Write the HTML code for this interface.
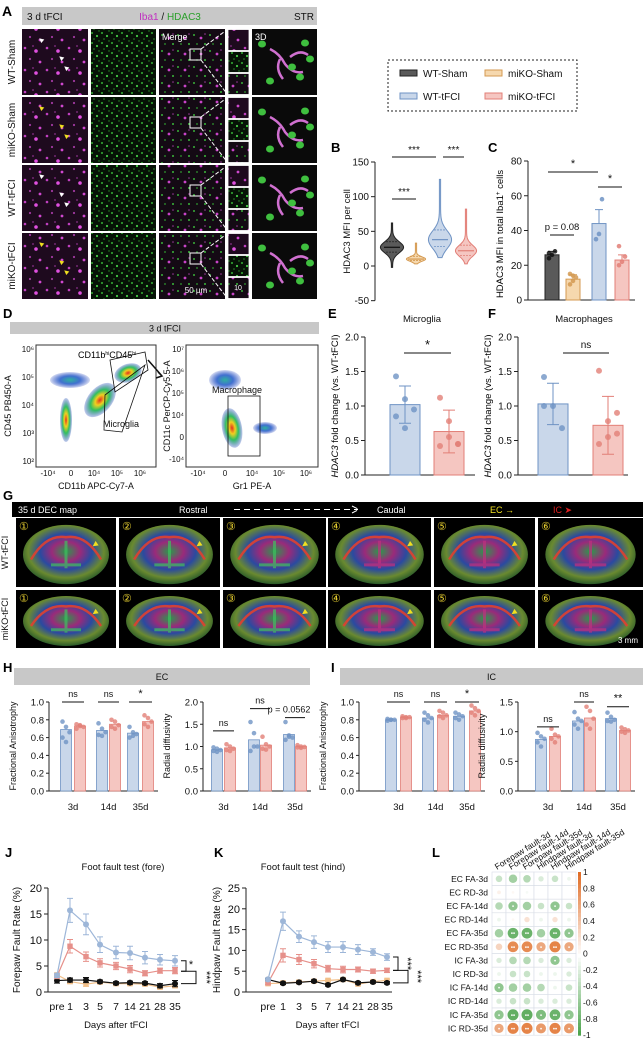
<!DOCTYPE html>
<html><head><meta charset="utf-8">
<style>
html,body{margin:0;padding:0;background:#fff;}
svg{display:block;font-family:"Liberation Sans",Arial,sans-serif;}
</style></head>
<body>
<svg id="fig" width="643" height="1038" viewBox="0 0 643 1038" xmlns="http://www.w3.org/2000/svg">
<defs>
<pattern id="pMag" width="22" height="22" patternUnits="userSpaceOnUse">
<rect width="22" height="22" fill="#1e0a1e"/>
<circle cx="3" cy="4" r="1.3" fill="#c040c0"/><circle cx="14" cy="7" r="1.8" fill="#e050e0"/><circle cx="8" cy="15" r="1.1" fill="#a038a0"/><circle cx="18" cy="18" r="1.4" fill="#d048d0"/><circle cx="11" cy="2" r="0.9" fill="#8a308a"/>
</pattern>
<pattern id="pGrn" width="10" height="10" patternUnits="userSpaceOnUse">
<rect width="10" height="10" fill="#061206"/>
<circle cx="2" cy="3" r="1" fill="#35b035"/><circle cx="7" cy="6" r="1.1" fill="#44cc44"/><circle cx="4" cy="9" r="0.8" fill="#2a8a2a"/><circle cx="9" cy="1" r="0.7" fill="#279027"/>
</pattern>
<pattern id="pMrg" width="16" height="16" patternUnits="userSpaceOnUse">
<rect width="16" height="16" fill="#140a14"/>
<circle cx="2" cy="3" r="1" fill="#38b038"/><circle cx="9" cy="6" r="1.4" fill="#c844c8"/><circle cx="5" cy="12" r="0.9" fill="#2f9a2f"/><circle cx="13" cy="12" r="1" fill="#3ab83a"/><circle cx="13" cy="2" r="0.8" fill="#9a3a9a"/>
</pattern>
<radialGradient id="gBrain" cx="50%" cy="45%" r="55%">
<stop offset="0" stop-color="#2a9a4a"/><stop offset="0.3" stop-color="#9a2a7a"/><stop offset="0.55" stop-color="#2a4aa0"/><stop offset="0.8" stop-color="#6a8a30"/><stop offset="1" stop-color="#2a5a2a"/>
</radialGradient>
<radialGradient id="gFlow" cx="50%" cy="50%" r="50%">
<stop offset="0" stop-color="#e03020"/><stop offset="0.3" stop-color="#f0d020"/><stop offset="0.6" stop-color="#30c060"/><stop offset="1" stop-color="#3050c0" stop-opacity="0.3"/>
</radialGradient>
<radialGradient id="gFlow2" cx="50%" cy="50%" r="50%">
<stop offset="0" stop-color="#30b0a0"/><stop offset="0.5" stop-color="#4070d0"/><stop offset="1" stop-color="#3050c0" stop-opacity="0.2"/>
</radialGradient>
</defs>
</svg>
<script>
// ---------- DATA ----------
const vGroups=['WT-Sham','miKO-Sham','WT-tFCI','miKO-tFCI'];
const vMin=[-2,3,12,3], vQ1=[20,8,28,15], vMed=[27,10,38,22], vQ3=[35,14,52,30], vMax=[62,33,125,82];
const cMeans=[26,12,44,23], cSem=[2,2.5,8,3];
const cPts=[[24,26,28,27],[9,11,13,15,14],[35,38,58],[20,22,25,31]];
const eMeans=[1.02,0.63], eSd=[0.27,0.31];
const ePts=[[1.43,1.1,0.95,0.85,0.68],[1.12,0.78,0.45,0.42,0.55,0.45]];
const fMeans=[1.03,0.72], fSd=[0.3,0.42];
const fPts=[[1.42,1.0,0.68,1.0],[1.51,0.78,0.6,0.45,0.55,0.9]];
const dtiDays=['3d','14d','35d'];
const hFaBlue=[.69,.68,.65], hFaRed=[.73,.75,.78];
const hRdBlue=[.93,1.15,1.27], hRdRed=[.97,1.03,1.0];
const iFaBlue=[.80,.82,.84], iFaRed=[.83,.85,.90];
const iRdBlue=[.87,1.18,1.22], iRdRed=[.92,1.23,1.02];
const hFaBluePts=[[.78,.72,.66,.6,.55],[.76,.7,.66,.63,.62],[.72,.66,.64,.6,.62]];
const hFaRedPts=[[.75,.74,.72,.7,.73],[.8,.78,.74,.72,.7],[.85,.82,.78,.75,.72]];
const hRdBluePts=[[.98,.95,.92,.9,.88],[1.55,1.3,1.0,.9,1.0],[1.55,1.25,1.2,1.15,1.22]];
const hRdRedPts=[[1.05,1.0,.95,.92,.9],[1.22,1.05,1.0,.95,.93],[1.03,1.0,.99,.98,.97]];
const iFaBluePts=[[.81,.8,.8,.79,.8],[.88,.85,.82,.8,.77],[.88,.86,.84,.82,.8]];
const iFaRedPts=[[.84,.83,.83,.82,.82],[.9,.88,.85,.84,.82],[.96,.93,.9,.88,.85]];
const iRdBluePts=[[.98,.92,.88,.82,.75],[1.33,1.22,1.18,1.12,1.05],[1.32,1.25,1.2,1.18,1.17]];
const iRdRedPts=[[1.05,.95,.92,.88,.82],[1.42,1.35,1.22,1.12,1.05],[1.07,1.04,1.02,1.0,.98]];
const hFaSig=['ns','ns','*'], hRdSig=['ns','ns','p = 0.0562'], iFaSig=['ns','ns','*'], iRdSig=['ns','ns','**'];
const hRdSigLvl=[1.35,1.85,1.65], iRdSigLvl=[1.08,1.5,1.42];
const ffDays=['pre','1','3','5','7','14','21','28','35'];
const foreBlue=[3.2,15.7,13.0,9.1,7.6,7.5,6.6,6.2,6.0], foreBlueErr=[0.4,2.3,2.0,1.5,1.2,1.3,1.2,1.0,1.0];
const foreRed=[3.0,8.8,6.8,5.6,5.0,4.4,3.6,4.1,4.1], foreRedErr=[0.3,1.3,0.9,0.8,0.7,0.7,0.5,0.5,0.6];
const foreOrange=[3.3,2.0,1.5,1.9,1.6,1.6,1.5,0.9,1.2], foreOrangeErr=[0.3,0.4,0.4,0.3,0.3,0.3,0.3,0.3,0.4];
const foreBlack=[2.2,2.3,2.3,2.0,1.7,1.8,1.7,1.2,1.6], foreBlackErr=[0.5,0.4,0.5,0.3,0.3,0.3,0.3,0.4,0.6];
const hindBlue=[3.0,17.0,13.3,12.0,10.8,10.8,10.2,9.6,8.4], hindBlueErr=[0.4,2.2,1.4,1.5,1.3,1.3,1.2,0.8,0.8];
const hindRed=[2.2,8.8,7.8,6.8,5.6,5.4,5.4,5.0,5.2], hindRedErr=[0.3,1.6,1.2,1.0,0.8,0.8,0.6,0.5,0.5];
const hindOrange=[2.0,2.2,2.4,2.6,2.8,3.0,1.9,2.5,2.8], hindOrangeErr=[0.3,0.3,0.3,0.3,0.3,0.3,0.3,0.3,0.3];
const hindBlack=[3.0,2.1,2.3,2.6,1.7,3.0,2.2,2.4,2.2], hindBlackErr=[0.3,0.3,0.3,0.3,0.3,0.3,0.3,0.3,0.3];
const corrRows=['EC FA-3d','EC RD-3d','EC FA-14d','EC RD-14d','EC FA-35d','EC RD-35d','IC FA-3d','IC RD-3d','IC FA-14d','IC RD-14d','IC FA-35d','IC RD-35d'];
const corrCols=['Forepaw fault-3d','Forepaw fault-14d','Forepaw fault-35d','Hindpaw fault-3d','Hindpaw fault-14d','Hindpaw fault-35d'];
const corrVals=[
[-0.3,-0.5,-0.4,-0.2,-0.3,-0.1],
[0.1,0.05,-0.05,0,0,0],
[-0.4,-0.6,-0.5,-0.3,-0.6,-0.3],
[-0.1,0.05,0.2,-0.1,0.2,-0.1],
[-0.5,-0.8,-0.8,-0.5,-0.8,-0.6],
[0.3,0.8,0.8,0.6,0.85,0.6],
[-0.2,-0.4,-0.4,-0.2,-0.6,-0.2],
[-0.1,-0.3,-0.3,-0.1,-0.1,-0.2],
[-0.6,-0.5,-0.5,-0.4,-0.1,-0.3],
[-0.2,-0.3,-0.3,-0.2,-0.2,-0.2],
[-0.6,-0.85,-0.85,-0.7,-0.8,-0.6],
[0.6,0.85,0.85,0.7,0.85,0.7]];
const corrTicks=[1,0.8,0.6,0.4,0.2,0,-0.2,-0.4,-0.6,-0.8,-1];

// ---------- HELPERS ----------
const NS='http://www.w3.org/2000/svg';
const svg=document.getElementById('fig');
function el(tag,parent){const e=document.createElementNS(NS,tag);(parent||svg).appendChild(e);return e;}
function at(e,o){for(const k in o)e.setAttribute(k,o[k]);return e;}
function T(p,x,y,s,size,anchor,fill,extra){const t=at(el('text',p),Object.assign({x:x,y:y,'font-size':size||9,'text-anchor':anchor||'start',fill:fill||'#111'},extra||{}));t.textContent=s;return t;}
function G(p){return el('g',p);}
const C={bF:'#c9d7ea',bS:'#6f93c4',rF:'#f5c6c1',rS:'#e27f77',oF:'#f6d8ae',oS:'#d49a52',kF:'#5a5a5a',kS:'#222'};

// ---------- PANEL A ----------
const gA=G();  
let t=T(gA,2,16,'A',14,'start','#000',{'font-weight':'bold'});  
let r=at(el('rect',gA),{x:22,y:7,width:295,height:18,fill:'#c8c8c8'});  
t=T(gA,27,20,'3 d tFCI',10);  
t=at(el('text',gA),{x:170,y:20,'font-size':10,'text-anchor':'middle'}); t.innerHTML='<tspan fill="#c030c0">Iba1</tspan><tspan fill="#111"> / </tspan><tspan fill="#2aa02a">HDAC3</tspan>';  
t=T(gA,314,20,'STR',10,'end');  
const aRows=['WT-Sham','miKO-Sham','WT-tFCI','miKO-tFCI'];
const aRowY=[29,97,165,233];
aRows.forEach((lab,i)=>{
  const y=aRowY[i],h=66;
  const lt=T(gA,15,y+h/2,lab,10,'middle','#111',{transform:`rotate(-90 15 ${y+h/2})`});  
  const i1=at(el('rect',gA),{x:22,y:y,width:66,height:h,fill:'url(#pMag)'});  
  const i2=at(el('rect',gA),{x:91,y:y,width:65,height:h,fill:'url(#pGrn)'});  
  const i3=at(el('rect',gA),{x:159,y:y,width:66,height:h,fill:'url(#pMrg)'});  
  const bx=at(el('rect',gA),{x:190,y:y+20,width:11,height:11,fill:'none',stroke:'#fff','stroke-width':1});  
  const dl=at(el('path',gA),{d:`M201 ${y+20} L228 ${y} M201 ${y+31} L228 ${y+h}`,stroke:'#fff','stroke-width':1,'stroke-dasharray':'4 2',fill:'none'});  
  ['url(#pMag)','url(#pGrn)','url(#pMrg)'].forEach((f,k)=>{const s=at(el('rect',gA),{x:228,y:y+k*22+0.5,width:21,height:21,fill:f,stroke:'#fff','stroke-width':0.8});  });
  const d3=at(el('rect',gA),{x:252,y:y,width:65,height:h,fill:'#0a0a0a'});  
  const cell=at(el('path',gA),{d:`M270 ${y+20} q10 5 15 15 q8 10 18 8 M280 ${y+30} q-5 10 3 20 M290 ${y+28} q10 -8 18 -2`,stroke:'#d070d0','stroke-width':2.5,fill:'none'});  
  [[262,15],[305,14],[300,48],[270,52],[292,38],[310,30]].forEach(p=>{const n=at(el('ellipse',gA),{cx:p[0],cy:y+p[1],rx:4,ry:3.5,fill:'#3fbf3f'});  });
  [[40,12],[60,30],[65,40]].forEach(p=>{const ar=T(gA,p[0],y+p[1],'◀',6,'middle',i%2?'#f0e020':'#fff',{transform:`rotate(40 ${p[0]} ${y+p[1]})`});  });
});
t=T(gA,162,40,'Merge',9,'start','#fff');  
t=T(gA,255,40,'3D',9,'start','#fff');  
t=T(gA,196,293,'50 µm',8,'middle','#fff');  
t=T(gA,238,290,'10',7,'middle','#fff');  

// ---------- LEGEND ----------
const gL=G();  
r=at(el('rect',gL),{x:388,y:60,width:189,height:51,fill:'none',stroke:'#222','stroke-dasharray':'2 2'});  
[['WT-Sham',C.kF,C.kS,400,74],['miKO-Sham',C.oF,C.oS,485,74],['WT-tFCI',C.bF,C.bS,400,97],['miKO-tFCI',C.rF,C.rS,485,97]].forEach(l=>{
  const s=at(el('rect',gL),{x:l[3],y:l[4]-4,width:17,height:6,fill:l[1],stroke:l[2]});  
  const lt=T(gL,l[3]+23,l[4]+3,l[0],10);  
});

// ---------- PANEL B (violins) ----------
const gB=G();  
const bY=v=>266-v*0.6933;
const bX=[392,416,440,466];
t=T(gB,331,152,'B',13,'start','#000',{'font-weight':'bold'});  
let ax=at(el('path',gB),{d:`M375 ${bY(150)} V${bY(-50)}`,stroke:'#222',fill:'none'});  
[150,100,50,0,-50].forEach(v=>{const k=at(el('path',gB),{d:`M371 ${bY(v)} H375`,stroke:'#222'});   const l=T(gB,369,bY(v)+3.5,v,10,'end');  });
t=T(gB,350,bY(50),'HDAC3 MFI per cell',9.5,'middle','#111',{transform:`rotate(-90 350 ${bY(50)})`});  
const vCols=[[C.kF,C.kS],[C.oF,C.oS],[C.bF,C.bS],[C.rF,C.rS]];
vGroups.forEach((g,i)=>{
  const s=(vQ3[i]-vQ1[i])*0.75, w=[11,9,11,10][i];
  let L=[],R=[];
  for(let k=0;k<=40;k++){const v=vMin[i]+(vMax[i]-vMin[i])*k/40; const ww=w*Math.exp(-Math.pow((v-vMed[i])/s,2))+0.6; L.push([bX[i]-ww,bY(v)]); R.push([bX[i]+ww,bY(v)]);}
  const d='M'+L.map(p=>p.join(' ')).join(' L')+' L'+R.reverse().map(p=>p.join(' ')).join(' L')+'Z';
  const p=at(el('path',gB),{d:d,fill:vCols[i][0],stroke:vCols[i][1],'stroke-width':1});  
  const m=at(el('path',gB),{d:`M${bX[i]-8} ${bY(vMed[i])} H${bX[i]+8}`,stroke:i==0?'#111':vCols[i][1],'stroke-width':1.2});  
  [vQ1[i],vQ3[i]].forEach(q=>{const qq=at(el('path',gB),{d:`M${bX[i]-6} ${bY(q)} H${bX[i]+6}`,stroke:vCols[i][1],'stroke-width':0.8,'stroke-dasharray':'2 1'});  });
});
[[392,436,157,'***'],[443,464,157,'***'],[392,416,199,'***']].forEach(s=>{const l=at(el('path',gB),{d:`M${s[0]} ${s[2]} H${s[1]}`,stroke:'#111'});   const st=T(gB,(s[0]+s[1])/2,s[2]-4,s[3],10,'middle');  });

// ---------- PANEL C ----------
const gC=G();  
const cY=v=>300-v*1.7375; const cX=[552,573,599,622];
t=T(gC,488,152,'C',13,'start','#000',{'font-weight':'bold'});  
ax=at(el('path',gC),{d:`M528 ${cY(80)} V${cY(0)} H635`,stroke:'#222',fill:'none'});  
[80,60,40,20,0].forEach(v=>{const k=at(el('path',gC),{d:`M524 ${cY(v)} H528`,stroke:'#222'});   const l=T(gC,522,cY(v)+3.5,v,10,'end');  });
t=at(el('text',gC),{x:503,y:cY(38),'font-size':9.5,'text-anchor':'middle',transform:`rotate(-90 503 ${cY(38)})`}); t.innerHTML='HDAC3 MFI in total Iba1<tspan dy="-3" font-size="6">+</tspan><tspan dy="3"> cells</tspan>';  
cMeans.forEach((m,i)=>{
  const b=at(el('rect',gC),{x:cX[i]-7,y:cY(m),width:14,height:cY(0)-cY(m),fill:vCols[i][0],stroke:vCols[i][1]});  
  const e=at(el('path',gC),{d:`M${cX[i]} ${cY(m)} V${cY(m+cSem[i])} M${cX[i]-4} ${cY(m+cSem[i])} H${cX[i]+4}`,stroke:vCols[i][1]});  
  cPts[i].forEach((v,k)=>{const d=at(el('circle',gC),{cx:cX[i]+((k%3)-1)*3,cy:cY(v),r:2.3,fill:i==0?'#111':vCols[i][1],opacity:0.85});  });
});
[[548,598,172,'*'],[598,622,187,'*'],[550,574,235,'p = 0.08']].forEach(s=>{const l=at(el('path',gC),{d:`M${s[0]} ${s[2]} H${s[1]}`,stroke:'#111'});   const st=T(gC,(s[0]+s[1])/2,s[2]-5,s[3],s[3].length>2?9.5:11,'middle');  });

// ---------- PANEL D (flow) ----------
const gD=G();  
t=T(gD,3,318,'D',13,'start','#000',{'font-weight':'bold'});  
r=at(el('rect',gD),{x:10,y:322,width:309,height:12,fill:'#c8c8c8'});  
t=T(gD,165,331.5,'3 d tFCI',9,'middle');  
[[36,120],[186,132]].forEach((p,i)=>{const fr=at(el('rect',gD),{x:p[0],y:345,width:p[1],height:122,fill:'#fff',stroke:'#333'});  });
[[66,420,6,22,0,'gFlow'],[100,400,12,20,40,'gFlow'],[128,373,14,9,-20,'gFlow'],[70,380,20,8,0,'gFlow2'],[232,428,10,20,-10,'gFlow'],[265,428,12,6,0,'gFlow2'],[225,380,16,10,0,'gFlow2']].forEach(b=>{const e=at(el('ellipse',gD),{cx:b[0],cy:b[1],rx:b[2],ry:b[3],fill:`url(#${b[5]})`,transform:`rotate(${b[4]} ${b[0]} ${b[1]})`});  });
let gp=at(el('path',gD),{d:'M110 360 L145 352 L148 370 L115 392 Z M105 395 L145 365 L122 432 L104 430 Z',fill:'none',stroke:'#111','stroke-width':0.8});  
gp=at(el('rect',gD),{x:228,y:396,width:32,height:60,fill:'none',stroke:'#111','stroke-width':0.8});  
gp=at(el('path',gD),{d:'M148 360 L162 376 M158 372 L162 376 L156 378',stroke:'#111','stroke-width':1.5,fill:'none'});  
t=at(el('text',gD),{x:78,y:358,'font-size':9}); t.innerHTML='CD11b<tspan font-size="5" dy="-3">hi</tspan><tspan dy="3">CD45</tspan><tspan font-size="5" dy="-3">hi</tspan>';  
t=T(gD,103,427,'Microglia',9);  
t=T(gD,212,393,'Macrophage',9);  
['10⁶','10⁵','10⁴','10³','10²'].forEach((s,i)=>{const l=T(gD,34,352+i*28,s,8,'end');  });
['10⁷','10⁶','10⁵','10⁴','0','-10⁴'].forEach((s,i)=>{const l=T(gD,184,352+i*22,s,8,'end');  });
['-10⁴','0','10⁴','10⁵','10⁶'].forEach((s,i)=>{const l=T(gD,48+i*23,476,s,8,'middle');  });
['-10⁴','0','10⁴','10⁵','10⁶'].forEach((s,i)=>{const l=T(gD,198+i*27,476,s,8,'middle');  });
t=T(gD,96,489,'CD11b APC-Cy7-A',9,'middle');  
t=T(gD,252,489,'Gr1 PE-A',9,'middle');  
t=T(gD,11,406,'CD45 PB450-A',9,'middle','#111',{transform:'rotate(-90 11 406)'});  
t=T(gD,170,406,'CD11c PerCP-Cy5.5-A',9,'middle','#111',{transform:'rotate(-90 170 406)'});  

// ---------- PANELS E/F ----------
function barPanel(name,lbl,lx,title,tx,axX,bx,means,sd,pts,sig,sigX){
  const g=G();  
  const Y=v=>475-v*69;
  let t=T(g,lx,318,lbl,13,'start','#000',{'font-weight':'bold'});  
  t=T(g,tx,322,title,9.5,'middle');  
  const a=at(el('path',g),{d:`M${axX} ${Y(2)} V${Y(0)} H${axX+110}`,stroke:'#222',fill:'none'});  
  [2,1.5,1,0.5,0].forEach(v=>{const k=at(el('path',g),{d:`M${axX-4} ${Y(v)} H${axX}`,stroke:'#222'});   const l=T(g,axX-6,Y(v)+3.5,v.toFixed(1),10,'end');  });
  t=at(el('text',g),{x:axX-27,y:Y(1),'font-size':9.5,'text-anchor':'middle',transform:`rotate(-90 ${axX-27} ${Y(1)})`}); t.innerHTML='<tspan font-style="italic">HDAC3</tspan> fold change (vs. WT-tFCI)';  
  means.forEach((m,i)=>{
    const fc=i?C.rF:C.bF, sc=i?C.rS:C.bS;
    const b=at(el('rect',g),{x:bx[i]-15,y:Y(m),width:30,height:Y(0)-Y(m),fill:fc,stroke:sc});  
    const e=at(el('path',g),{d:`M${bx[i]} ${Y(m-sd[i])} V${Y(m+sd[i])} M${bx[i]-6} ${Y(m+sd[i])} H${bx[i]+6} M${bx[i]-6} ${Y(m-sd[i])} H${bx[i]+6}`,stroke:sc});  
    pts[i].forEach((v,k)=>{const d=at(el('circle',g),{cx:bx[i]+((k%3)-1)*9,cy:Y(v),r:3,fill:sc,opacity:0.8});  });
  });
  const l=at(el('path',g),{d:`M${sigX[0]} 353 H${sigX[1]}`,stroke:'#111'});  
  t=T(g,(sigX[0]+sigX[1])/2,sig=='*'?349:348,sig,sig=='*'?13:10,'middle');  
}
barPanel('panel-e','E',328,'Microglia',422,365,[405,449],eMeans,eSd,ePts,'*',[404,451]);
barPanel('panel-f','F',488,'Macrophages',584,518,[553,608],fMeans,fSd,fPts,'ns',[563,609]);

// ---------- PANEL G (DEC maps) ----------
const gG=G();  
t=T(gG,3,500,'G',13,'start','#000',{'font-weight':'bold'});  
r=at(el('rect',gG),{x:12,y:502,width:631,height:15,fill:'#000'});  
t=T(gG,18,513,'35 d   DEC  map',9,'start','#fff',{'xml:space':'preserve'});  
t=T(gG,179,513,'Rostral',9,'start','#fff');  
let dash=at(el('path',gG),{d:'M234 509.5 H358 M352 506 L359 509.5 L352 513',stroke:'#fff','stroke-dasharray':'6 4',fill:'none'});  
t=T(gG,377,513,'Caudal',9,'start','#fff');  
t=T(gG,490,513,'EC →',9,'start','#f0e020');  
t=T(gG,553,513,'IC ➤',9,'start','#e02020');  
const gCols=[[12,116],[119,220],[223,326],[328,431],[434,535],[538,643]];
const nums=['①','②','③','④','⑤','⑥'];
[['WT-tFCI',518,587],['miKO-tFCI',590,648]].forEach((row,ri)=>{
  const rl=T(gG,8,(row[1]+row[2])/2,row[0],9,'middle','#111',{transform:`rotate(-90 8 ${(row[1]+row[2])/2})`});  
  gCols.forEach((c,ci)=>{
    const x0=c[0]+(ci==0?4:0), w=c[1]-x0, y0=row[1], h=row[2]-row[1], cx=x0+w/2, cy=y0+h/2+2;
    const bg=at(el('rect',gG),{x:x0,y:y0,width:w,height:h,fill:'#000'});  
    const br=at(el('ellipse',gG),{cx:cx,cy:cy,rx:w*0.43,ry:h*0.43,fill:'url(#gBrain)'});  
    const cc=at(el('path',gG),{d:`M${cx-w*0.35} ${cy+5} Q${cx-w*0.2} ${cy-h*0.3} ${cx} ${cy-h*0.25} Q${cx+w*0.2} ${cy-h*0.3} ${cx+w*0.35} ${cy+5}`,stroke:'#e04030','stroke-width':2.5,fill:'none',opacity:0.9});  
    const mid=at(el('path',gG),{d:`M${cx} ${cy-h*0.2} V${cy+h*0.2} M${cx-w*0.15} ${cy+h*0.15} H${cx+w*0.15}`,stroke:ci<3?'#40c060':'#c03080','stroke-width':3,opacity:0.7});  
    const n=T(gG,x0+3,y0+12,nums[ci],11,'start','#e8d030');  
    if(ci<5){const a=T(gG,cx+w*0.3,cy-h*0.12,'◀',7,'middle','#f0e020',{transform:`rotate(-35 ${cx+w*0.3} ${cy-h*0.12})`});  }
  });
});
t=T(gG,628,643,'3 mm',8,'middle','#fff');  

// ---------- PANELS H/I ----------
const gH=G();  
t=T(gH,3,672,'H',13,'start','#000',{'font-weight':'bold'});  
t=T(gH,331,672,'I',13,'start','#000',{'font-weight':'bold'});  
[[14,310,'EC'],[340,643,'IC']].forEach(b=>{const rr=at(el('rect',gH),{x:b[0],y:668,width:b[1]-b[0],height:17,fill:'#c8c8c8'});   const tt=T(gH,(b[0]+b[1])/2,680,b[2],9,'middle');  });
function dti(name,axX,bxB,bxR,max,ticks,fmt,blue,red,bPts,rPts,sig,sigLvl,ytitle){
  const g=G(gH);  
  const Y=v=>791-v/max*89;
  const a=at(el('path',g),{d:`M${axX} 702 V791 H${bxR[2]+10}`,stroke:'#222',fill:'none'});  
  ticks.forEach(v=>{const k=at(el('path',g),{d:`M${axX-3} ${Y(v)} H${axX}`,stroke:'#222'});   const l=T(g,axX-5,Y(v)+3.5,v.toFixed(1),9.5,'end');  });
  const yt=T(g,axX-33,746,ytitle,9,'middle','#111',{transform:`rotate(-90 ${axX-33} 746)`});  
  dtiDays.forEach((d,i)=>{
    [[bxB[i],blue[i],bPts[i],C.bF,C.bS,'wt-tfci'],[bxR[i],red[i],rPts[i],C.rF,C.rS,'miko-tfci']].forEach(q=>{
      const b=at(el('rect',g),{x:q[0]-5.5,y:Y(q[1]),width:11,height:791-Y(q[1]),fill:q[3],stroke:q[4],'stroke-width':0.8});  
      q[2].forEach((v,k)=>{const c=at(el('circle',g),{cx:q[0]+((k%3)-1)*3.5,cy:Y(v),r:2.3,fill:q[4],opacity:0.8});  });
    });
    const xl=T(g,(bxB[i]+bxR[i])/2,810,d,9.5,'middle');  
    const ly=Y(sigLvl[i]);
    const sl=at(el('path',g),{d:`M${bxB[i]-4} ${ly} H${bxR[i]+4}`,stroke:'#111'});  
    const isP=sig[i].startsWith('p');
    const st=T(g,isP?(bxB[i]+bxR[i])/2-6:(bxB[i]+bxR[i])/2,ly-5,sig[i],sig[i].includes('*')?11:9,'middle');  
  });
}
dti('chart-ec-fa',49,[66,102,133],[80,115,148],1,[0,.2,.4,.6,.8,1],1,hFaBlue,hFaRed,hFaBluePts,hFaRedPts,hFaSig,[1,1,1],'Fractional Anisotrophy');
dti('chart-ec-rd',203,[217,254,289],[230,266,301],2,[0,.5,1,1.5,2],1,hRdBlue,hRdRed,hRdBluePts,hRdRedPts,hRdSig,hRdSigLvl,'Radial diffusivity');
dti('chart-ic-fa',359,[391,428,459],[406,443,475],1,[0,.2,.4,.6,.8,1],1,iFaBlue,iFaRed,iFaBluePts,iFaRedPts,iFaSig,[1,1,1],'Fractional Anisotrophy');
dti('chart-ic-rd',518,[541,578,611],[555,590,625],1.5,[0,.5,1,1.5],1,iRdBlue,iRdRed,iRdBluePts,iRdRedPts,iRdSig,iRdSigLvl,'Radial diffusivity');

// ---------- PANELS J/K ----------
function lineChart(name,lbl,lx,title,tx,axX,xs,max,ticks,series,ytitle,ytx){
  const g=G();  
  const Y=v=>992-v/max*104;
  let t=T(g,lx,857,lbl,13,'start','#000',{'font-weight':'bold'});  
  t=T(g,tx,870,title,9.5,'middle');  
  const a=at(el('path',g),{d:`M${axX} 888 V992 H${xs[8]+5}`,stroke:'#222',fill:'none'});  
  ticks.forEach(v=>{const k=at(el('path',g),{d:`M${axX-4} ${Y(v)} H${axX}`,stroke:'#222'});   const l=T(g,axX-6,Y(v)+4,v,11,'end');  });
  ffDays.forEach((d,i)=>{const l=T(g,xs[i],1010,d,10.5,'middle');  });
  t=T(g,(xs[0]+xs[8])/2,1028,'Days after tFCI',9.5,'middle');  
  t=T(g,ytx,940,ytitle,10,'middle','#111',{transform:`rotate(-90 ${ytx} 940)`});  
  series.forEach(s=>{
    const ln=at(el('path',g),{d:'M'+s.v.map((v,i)=>xs[i]+' '+Y(v)).join(' L'),stroke:s.c,'stroke-width':1.2,fill:'none'});  
    s.v.forEach((v,i)=>{
      const e=at(el('path',g),{d:`M${xs[i]} ${Y(v-s.e[i])} V${Y(v+s.e[i])} M${xs[i]-3} ${Y(v+s.e[i])} H${xs[i]+3} M${xs[i]-3} ${Y(v-s.e[i])} H${xs[i]+3}`,stroke:s.c,'stroke-width':1});  
      const m=s.sq?at(el('rect',g),{x:xs[i]-2.7,y:Y(v)-2.7,width:5.4,height:5.4,fill:s.c}):at(el('circle',g),{cx:xs[i],cy:Y(v),r:3,fill:s.c});  
    });
  });
  return {g:g,Y:Y};
}
const jx=[57,70,86,100,116,130,145,160,175];
const J=lineChart('panel-j','J',5,'Foot fault test (fore)',123,48,jx,20,[0,5,10,15,20],[
 {n:'miko-sham',v:foreOrange,e:foreOrangeErr,c:'#f2c08a',sq:1},{n:'wt-sham',v:foreBlack,e:foreBlackErr,c:'#111'},
 {n:'miko-tfci',v:foreRed,e:foreRedErr,c:'#e6908a',sq:1},{n:'wt-tfci',v:foreBlue,e:foreBlueErr,c:'#9db6d8'}],'Forepaw Fault Rate (%)',20);
let br=at(el('path',J.g),{d:`M181 ${J.Y(6)} H186 V${J.Y(4)} H181`,stroke:'#111',fill:'none'});  
br=at(el('path',J.g),{d:`M181 ${J.Y(4)} H196 V${J.Y(1.6)} H181`,stroke:'#111',fill:'none'});  
t=T(J.g,191,J.Y(4.6),'*',11,'middle');  
t=T(J.g,203,J.Y(2.8),'***',11,'middle','#111',{transform:`rotate(90 203 ${J.Y(2.8)})`});  
const kx=[268,283,299,314,328,343,358,373,387];
const K=lineChart('panel-k','K',214,'Foot fault test (hind)',303,246,kx,25,[0,5,10,15,20,25],[
 {n:'miko-sham',v:hindOrange,e:hindOrangeErr,c:'#f2c08a',sq:1},{n:'wt-sham',v:hindBlack,e:hindBlackErr,c:'#111'},
 {n:'miko-tfci',v:hindRed,e:hindRedErr,c:'#e6908a',sq:1},{n:'wt-tfci',v:hindBlue,e:hindBlueErr,c:'#9db6d8'}],'Hindpaw Fault Rate (%)',220);
br=at(el('path',K.g),{d:`M393 ${K.Y(8.4)} H398 V${K.Y(5.2)} H393`,stroke:'#111',fill:'none'});  
br=at(el('path',K.g),{d:`M393 ${K.Y(5.2)} H408 V${K.Y(2.2)} H393`,stroke:'#111',fill:'none'});  
t=T(K.g,404,K.Y(6.8),'***',11,'middle','#111',{transform:`rotate(90 404 ${K.Y(6.8)})`});  
t=T(K.g,414,K.Y(3.7),'***',11,'middle','#111',{transform:`rotate(90 414 ${K.Y(3.7)})`});  

// ---------- PANEL L (correlation matrix) ----------
const gLm=G();  
t=T(gLm,432,857,'L',13,'start','#000',{'font-weight':'bold'});  
const mx0=492, my0=872, cw=14, ch=13.6;
function corrColor(v){const a=Math.abs(v); if(v>=0){return `rgb(${Math.round(255-(255-224)*a)},${Math.round(255-(255-110)*a)},${Math.round(255-(255-40)*a)})`;} return `rgb(${Math.round(255-(255-70)*a)},${Math.round(255-(255-160)*a)},${Math.round(255-(255-70)*a)})`;}
corrRows.forEach((rn,i)=>{
  const rl=T(gLm,488,my0+i*ch+ch/2+3,rn,8.5,'end');  
  corrCols.forEach((cn,j)=>{
    const cell=at(el('rect',gLm),{x:mx0+j*cw,y:my0+i*ch,width:cw,height:ch,fill:'#fff',stroke:'#d8dde6','stroke-width':0.6});  
    const v=corrVals[i][j];
    const c=at(el('circle',gLm),{cx:mx0+j*cw+cw/2,cy:my0+i*ch+ch/2,r:Math.max(0.8,Math.sqrt(Math.abs(v))*6),fill:corrColor(v)});  
    if(Math.abs(v)>=0.6){const s=T(gLm,mx0+j*cw+cw/2,my0+i*ch+ch/2+2.5,Math.abs(v)>=0.8?'••':'•',6,'middle','#fff');  }
  });
});
corrCols.forEach((cn,j)=>{const x=mx0+j*cw+cw/2-2,y=my0-2; const cl=T(gLm,x,y,cn,8.5,'start','#111',{transform:`rotate(-32 ${x} ${y})`});  });
const cb=G(gLm);  
for(let k=0;k<40;k++){const v=1-k/20; const s=at(el('rect',cb),{x:578,y:my0+k*(ch*12/40),width:3,height:ch*12/40+0.5,fill:corrColor(v>1?1:v)});  }
corrTicks.forEach((v,k)=>{const l=T(cb,583,my0+k*(ch*12/10)+3,String(v),8.5);  });
</script>
</body></html>
